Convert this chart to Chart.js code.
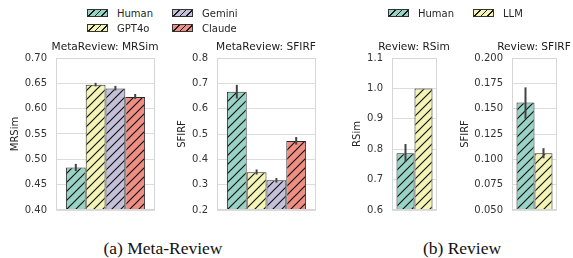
<!DOCTYPE html>
<html>
<head>
<meta charset="utf-8">
<script src="https://cdn.jsdelivr.net/npm/chart.js@4.4.0/dist/chart.umd.min.js"></script>
<style>
body { margin: 0; background: #fff; font-family: "DejaVu Sans", sans-serif; }
#wrap { position: relative; width: 573px; height: 258px; overflow: hidden; }
.box { position: absolute; }
.ttl { position: absolute; width: 160px; text-align: center; font-size: 10.6px; line-height: 13px; color: #1a1a1a; white-space: nowrap; }
.leg { position: absolute; font-size: 10px; color: #262626; display: flex; align-items: center; height: 12px; }
.sw { width: 19px; height: 6px; border: 1px solid #333; margin-right: 9px; }
.cap { position: absolute; font-family: "Liberation Serif", serif; font-size: 17.5px; color: #111; text-align: center; line-height: 20px; }
</style>
</head>
<body>
<div id="wrap">
  <div class="box" style="left:8px;top:43px;width:147px;height:182px"><canvas id="c1"></canvas></div>
  <div class="box" style="left:169px;top:43px;width:147px;height:182px"><canvas id="c2"></canvas></div>
  <div class="box" style="left:344px;top:43px;width:93px;height:182px"><canvas id="c3"></canvas></div>
  <div class="box" style="left:458px;top:43px;width:99px;height:182px"><canvas id="c4"></canvas></div>
  <div class="ttl" style="left:25px;top:40px">MetaReview: MRSim</div>
  <div class="ttl" style="left:186px;top:40px">MetaReview: SFIRF</div>
  <div class="ttl" style="left:334px;top:40px">Review: RSim</div>
  <div class="ttl" style="left:454px;top:40px">Review: SFIRF</div>
  <div id="legends"></div>
  <div class="cap" style="left:63px;top:238px;width:200px">(a) Meta-Review</div>
  <div class="cap" style="left:362px;top:238px;width:200px">(b) Review</div>
</div>
<script>
// models and colours
const metaModels = ['Human', 'GPT4o', 'Gemini', 'Claude'];
const reviewModels = ['Human', 'LLM'];
const metaColors = ['#98d3c6', '#f4f4b6', '#c5c0da', '#ef8f83'];
const reviewColors = ['#98d3c6', '#f4f4b6'];

// MetaReview: MRSim
const mrsimMean = [0.484, 0.647, 0.640, 0.623];
const mrsimLow  = [0.477, 0.644, 0.636, 0.619];
const mrsimHigh = [0.491, 0.651, 0.645, 0.629];

// MetaReview: SFIRF
const metaSfirfMean = [0.667, 0.349, 0.317, 0.472];
const metaSfirfLow  = [0.640, 0.340, 0.308, 0.458];
const metaSfirfHigh = [0.694, 0.360, 0.326, 0.488];

// Review: RSim
const rsimMean = [0.787, 1.000];
const rsimLow  = [0.758, 1.000];
const rsimHigh = [0.817, 1.000];

// Review: SFIRF
const revSfirfMean = [0.156, 0.106];
const revSfirfLow  = [0.140, 0.101];
const revSfirfHigh = [0.171, 0.111];

function hatch(color) {
  const s = 9;
  const c = document.createElement('canvas');
  c.width = s; c.height = s;
  const g = c.getContext('2d');
  g.fillStyle = color;
  g.fillRect(0, 0, s, s);
  g.strokeStyle = '#111';
  g.lineWidth = 1.15;
  g.beginPath();
  g.moveTo(-1, s + 1); g.lineTo(s + 1, -1);
  g.moveTo(-1, 1); g.lineTo(1, -1);
  g.moveTo(s - 1, s + 1); g.lineTo(s + 1, s - 1);
  g.stroke();
  return g.createPattern(c, 'repeat');
}

const errorBars = {
  id: 'errorBars',
  afterDatasetsDraw(chart) {
    const ctx = chart.ctx, y = chart.scales.y, a = chart.chartArea;
    ctx.save();
    ctx.strokeStyle = '#d6d6d6';
    ctx.lineWidth = 1;
    ctx.strokeRect(a.left + 0.5, a.top + 0.5, a.right - a.left - 1, a.bottom - a.top - 1);
    ctx.strokeStyle = '#424242';
    ctx.lineWidth = 2;
    chart.data.datasets.forEach((ds, i) => {
      const bar = chart.getDatasetMeta(i).data[0];
      ctx.beginPath();
      ctx.moveTo(bar.x, y.getPixelForValue(ds.errLow));
      ctx.lineTo(bar.x, y.getPixelForValue(ds.errHigh));
      ctx.stroke();
    });
    ctx.restore();
  }
};

function makeChart(id, yTitle, models, colors, mean, low, high, yMin, yMax, step, dec, axisW, titlePad) {
  new Chart(document.getElementById(id), {
    type: 'bar',
    data: {
      labels: [''],
      datasets: models.map((m, i) => ({
        label: m,
        data: [mean[i]],
        errLow: low[i],
        errHigh: high[i],
        backgroundColor: hatch(colors[i]),
        borderColor: '#2b2b2b',
        borderWidth: 1,
        borderSkipped: false
      }))
    },
    options: {
      responsive: true,
      maintainAspectRatio: false,
      animation: false,
      layout: { padding: 0 },
      datasets: { bar: { categoryPercentage: 0.8, barPercentage: 1.0 } },
      plugins: {
        legend: { display: false },
        tooltip: { enabled: false }
      },
      scales: {
        x: { display: false },
        y: {
          min: yMin,
          max: yMax,
          afterFit: s => { s.width = axisW; },
          ticks: {
            stepSize: step,
            padding: 9,
            color: '#333',
            font: { family: 'DejaVu Sans', size: 10 },
            callback: v => Number(v).toFixed(dec)
          },
          grid: { color: '#dcdcdc', drawTicks: false },
          border: { display: false },
          title: {
            display: true,
            text: yTitle,
            color: '#222',
            font: { family: 'DejaVu Sans', size: 10 },
            padding: { top: titlePad, bottom: 0 }
          }
        }
      }
    },
    plugins: [errorBars]
  });
}

makeChart('c1', 'MRSim', metaModels, metaColors, mrsimMean, mrsimLow, mrsimHigh, 0.40, 0.70, 0.05, 2, 48, 1);
makeChart('c2', 'SFIRF', metaModels, metaColors, metaSfirfMean, metaSfirfLow, metaSfirfHigh, 0.2, 0.8, 0.1, 1, 48, 7);
makeChart('c3', 'RSim', reviewModels, reviewColors, rsimMean, rsimLow, rsimHigh, 0.6, 1.1, 0.1, 1, 48, 7);
makeChart('c4', 'SFIRF', reviewModels, reviewColors, revSfirfMean, revSfirfLow, revSfirfHigh, 0.05, 0.20, 0.025, 3, 54, 1);

// legends
const legendItems = [
  { name: metaModels[0], color: metaColors[0], x: 87, y: 7 },
  { name: metaModels[1], color: metaColors[1], x: 87, y: 22 },
  { name: metaModels[2], color: metaColors[2], x: 172, y: 7 },
  { name: metaModels[3], color: metaColors[3], x: 172, y: 22 },
  { name: reviewModels[0], color: reviewColors[0], x: 388, y: 7 },
  { name: reviewModels[1], color: reviewColors[1], x: 473, y: 7 }
];
const legendBox = document.getElementById('legends');
legendItems.forEach(it => {
  const d = document.createElement('div');
  d.className = 'leg';
  d.style.left = it.x + 'px';
  d.style.top = it.y + 'px';
  const sw = document.createElement('span');
  sw.className = 'sw';
  sw.style.background = 'repeating-linear-gradient(-45deg, ' + it.color + ' 0 3.5px, #1a1a1a 3.5px 4.5px)';
  d.appendChild(sw);
  d.appendChild(document.createTextNode(it.name));
  legendBox.appendChild(d);
});
</script>
</body>
</html>
